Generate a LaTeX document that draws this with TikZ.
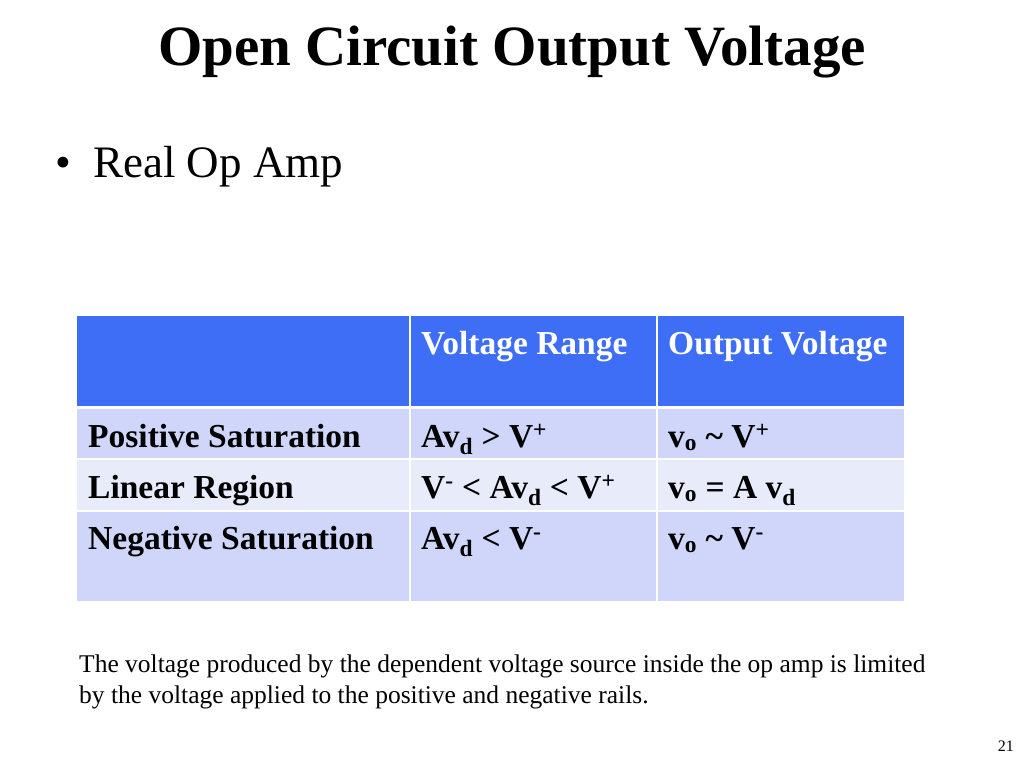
\documentclass[tikz,border=0pt]{standalone}
\usepackage{fontspec}
\setmainfont{Liberation Serif}
\newcommand{\sbs}[1]{\textsubscript{#1}}
\newcommand{\sps}[1]{\textsuperscript{#1}}
\begin{document}
\begin{tikzpicture}[x=1pt,y=-1pt,
  hdr/.style={fill={rgb,255:red,61;green,110;blue,245}},
  rowa/.style={fill={rgb,255:red,207;green,214;blue,250}},
  rowb/.style={fill={rgb,255:red,232;green,235;blue,250}},
  cell/.style={anchor=base west,inner sep=0pt,font=\fontsize{33.5}{38}\selectfont\bfseries},
  hcell/.style={cell,text=white},
  note/.style={anchor=base west,inner sep=0pt,font=\fontsize{25.5}{30}\selectfont}]
\useasboundingbox (0,0) rectangle (1024,768);
\node[anchor=base,inner sep=0pt,font=\fontsize{57}{62}\selectfont\bfseries] (title) at (512,65) {Open Circuit Output Voltage};
\node[anchor=base west,inner sep=0pt,font=\fontsize{45}{50}\selectfont] (bul) at (55,177) {•};
\node[anchor=base west,inner sep=0pt,font=\fontsize{45}{50}\selectfont] (sub) at (93,177) {Real Op Amp};
\fill[hdr] (77,316) rectangle (409,406);
\fill[hdr] (411,316) rectangle (656,406);
\fill[hdr] (658,316) rectangle (904,406);
\fill[rowa] (77,409) rectangle (409,458);
\fill[rowa] (411,409) rectangle (656,458);
\fill[rowa] (658,409) rectangle (904,458);
\fill[rowb] (77,460) rectangle (409,510);
\fill[rowb] (411,460) rectangle (656,510);
\fill[rowb] (658,460) rectangle (904,510);
\fill[rowa] (77,512) rectangle (409,601);
\fill[rowa] (411,512) rectangle (656,601);
\fill[rowa] (658,512) rectangle (904,601);
\node[hcell] (h2) at (421,354) {Voltage Range};
\node[hcell] (h3) at (668,354) {Output Voltage};
\node[cell] (r1a) at (88,447) {Positive Saturation};
\node[cell] (r1b) at (421,447) {Av\sbs{d} > V\sps{+}};
\node[cell] (r1c) at (668,447) {v\sbs{o} \textasciitilde{} V\sps{+}};
\node[cell] (r2a) at (88,498) {Linear Region};
\node[cell] (r2b) at (421,498) {V\sps{-} < Av\sbs{d} < V\sps{+}};
\node[cell] (r2c) at (668,498) {v\sbs{o} = A v\sbs{d}};
\node[cell] (r3a) at (88,549) {Negative Saturation};
\node[cell] (r3b) at (421,549) {Av\sbs{d} < V\sps{-}};
\node[cell] (r3c) at (668,549) {v\sbs{o} \textasciitilde{} V\sps{-}};
\node[note] (n1) at (79,672) {The voltage produced by the dependent voltage source inside the op amp is limited};
\node[note] (n2) at (79,703) {by the voltage applied to the positive and negative rails.};
\node[anchor=base east,inner sep=0pt,font=\fontsize{16}{18}\selectfont] (pg) at (1014,751) {21};
\end{tikzpicture}
\end{document}
